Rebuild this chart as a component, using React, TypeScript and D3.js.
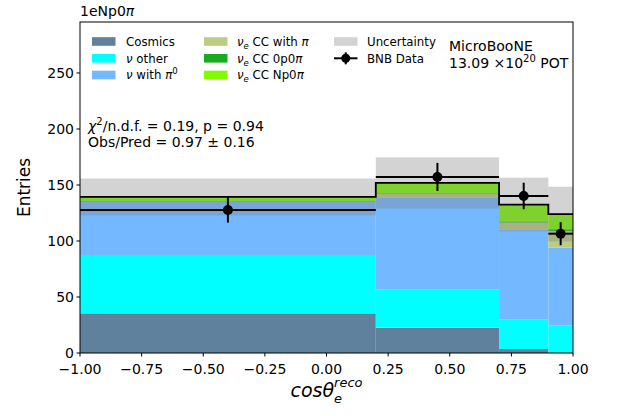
import React from "react";
import * as d3 from "d3";

const binEdges = [-1.0, 0.2, 0.7, 0.9, 1.0];
const cosmics = [35.4, 22.6, 3.6, 0.3];
const nuOther = [52.1, 33.9, 26.2, 24.1];
const nuPi0 = [47.3, 82.5, 80.6, 69.6];
const nueCCPi = [0.4, 3.0, 6.1, 15.0];
const nueCC0p0pi = [0.5, 0.6, 1.0, 1.5];
const nueCCNp0pi = [3.6, 9.2, 15.0, 13.5];
const uncertainty = [16.5, 22.9, 24.0, 24.4];
const dataValues = [127.7, 157.2, 140.2, 106.5];
const xTicks = [-1.0, -0.75, -0.5, -0.25, 0.0, 0.25, 0.5, 0.75, 1.0];
const yTicks = [0, 50, 100, 150, 200, 250];

const seriesKeys = ["cosmics", "nuOther", "nuPi0", "nueCCPi", "nueCC0p0pi", "nueCCNp0pi"];
const seriesValues: Record<string, number[]> = {
  cosmics, nuOther, nuPi0, nueCCPi, nueCC0p0pi, nueCCNp0pi,
};
const colors: Record<string, string> = {
  cosmics: "#5f819d",
  nuOther: "#00ffff",
  nuPi0: "#74b9ff",
  nueCCPi: "#bccd83",
  nueCC0p0pi: "#17ab1f",
  nueCCNp0pi: "#7ffc00",
};

const W = 621, H = 416;
const L = 80, R = 573, T = 22, B = 353;
const FONT = "DejaVu Sans";

export default function App() {
  const x = d3.scaleLinear().domain([-1, 1]).range([L, R]);
  const y = d3.scaleLinear().domain([0, 295.5]).range([B, T]);

  const rows = binEdges.slice(0, -1).map((e, i) => {
    const r: any = { i, x0: e, x1: binEdges[i + 1] };
    seriesKeys.forEach((k) => (r[k] = seriesValues[k][i]));
    return r;
  });
  const stacked = d3.stack().keys(seriesKeys)(rows as any);
  const totals = rows.map((_, i) => stacked[stacked.length - 1][i][1]);

  const stepPts: [number, number][] = [];
  rows.forEach((r, i) => {
    stepPts.push([x(r.x0), y(totals[i])]);
    stepPts.push([x(r.x1), y(totals[i])]);
  });
  const stepPath = d3.line()(stepPts) as string;

  const fmt = d3.format(".2f");
  const tickLabel = (v: number) => fmt(v).replace("-", "\u2212");

  const legendRowY = [41.5, 58.3, 75];
  const legendItems: { col: number; row: number; key?: string; label: React.ReactNode; kind: string }[] = [
    { col: 0, row: 0, key: "cosmics", label: "Cosmics", kind: "patch" },
    { col: 0, row: 1, key: "nuOther", label: <><tspan fontStyle="italic">ν</tspan> other</>, kind: "patch" },
    { col: 0, row: 2, key: "nuPi0", label: <><tspan fontStyle="italic">ν</tspan> with <tspan fontStyle="italic">π</tspan><tspan dy={-5} fontSize={8.5}>0</tspan></>, kind: "patch" },
    { col: 1, row: 0, key: "nueCCPi", label: <><tspan fontStyle="italic">ν</tspan><tspan dy={3} fontSize={8.5} fontStyle="italic">e</tspan><tspan dy={-3}> CC with </tspan><tspan fontStyle="italic">π</tspan></>, kind: "patch" },
    { col: 1, row: 1, key: "nueCC0p0pi", label: <><tspan fontStyle="italic">ν</tspan><tspan dy={3} fontSize={8.5} fontStyle="italic">e</tspan><tspan dy={-3}> CC 0p0</tspan><tspan fontStyle="italic">π</tspan></>, kind: "patch" },
    { col: 1, row: 2, key: "nueCCNp0pi", label: <><tspan fontStyle="italic">ν</tspan><tspan dy={3} fontSize={8.5} fontStyle="italic">e</tspan><tspan dy={-3}> CC Np0</tspan><tspan fontStyle="italic">π</tspan></>, kind: "patch" },
    { col: 2, row: 0, label: "Uncertainty", kind: "band" },
    { col: 2, row: 1, label: "BNB Data", kind: "data" },
  ];
  const colPatchX = [92, 204, 334];
  const colTextX = [126, 237, 367];

  return (
    <svg width={W} height={H} style={{ position: "absolute", left: 0, top: 0 }} fontFamily={FONT}>
      <rect width={W} height={H} fill="white" />
      {stacked.map((s) => (
        <g key={s.key}>
          {s.map((d, i) => (
            <rect key={i}
              x={x(rows[i].x0)} width={x(rows[i].x1) - x(rows[i].x0)}
              y={y(d[1])} height={Math.max(0, y(d[0]) - y(d[1]))}
              fill={colors[s.key]} />
          ))}
        </g>
      ))}
      {rows.map((r, i) => (
        <rect key={"u" + i}
          x={x(r.x0)} width={x(r.x1) - x(r.x0)}
          y={y(totals[i] + uncertainty[i])}
          height={y(totals[i] - uncertainty[i]) - y(totals[i] + uncertainty[i])}
          fill="#808080" fillOpacity={0.35} />
      ))}
      <path d={stepPath} fill="none" stroke="black" strokeWidth={1.8} />
      {rows.map((r, i) => {
        const cx = x((r.x0 + r.x1) / 2);
        const err = Math.sqrt(dataValues[i]);
        return (
          <g key={"d" + i}>
            <line x1={x(r.x0)} x2={x(r.x1)} y1={y(dataValues[i])} y2={y(dataValues[i])} stroke="black" strokeWidth={2} />
            <line x1={cx} x2={cx} y1={y(dataValues[i] + err)} y2={y(dataValues[i] - err)} stroke="black" strokeWidth={2} />
            <circle cx={cx} cy={y(dataValues[i])} r={5} fill="black" />
          </g>
        );
      })}
      <rect x={L} y={T} width={R - L} height={B - T} fill="none" stroke="black" strokeWidth={1} />
      {xTicks.map((t) => (
        <g key={"xt" + t}>
          <line x1={x(t)} x2={x(t)} y1={B} y2={B + 3.5} stroke="black" strokeWidth={1} />
          <text x={x(t)} y={B + 21} fontSize={14} textAnchor="middle">{tickLabel(t)}</text>
        </g>
      ))}
      {yTicks.map((t) => (
        <g key={"yt" + t}>
          <line x1={L - 3.5} x2={L} y1={y(t)} y2={y(t)} stroke="black" strokeWidth={1} />
          <text x={L - 6} y={y(t) + 5} fontSize={14} textAnchor="end">{t}</text>
        </g>
      ))}
      <text transform={`translate(30,${(T + B) / 2}) rotate(-90)`} fontSize={17} textAnchor="middle">Entries</text>
      <text x={(L + R) / 2} y={397} fontSize={19} textAnchor="middle" fontStyle="italic">
        cosθ<tspan dy={6} fontSize={13}>e</tspan><tspan dy={-16} dx={-8} fontSize={13}>reco</tspan>
      </text>
      <text x={L} y={16} fontSize={14}>1eNp0<tspan fontStyle="italic">π</tspan></text>
      {legendItems.map((it, idx) => {
        const cy = legendRowY[it.row];
        const px = colPatchX[it.col];
        return (
          <g key={"lg" + idx}>
            {it.kind === "patch" && <rect x={px} y={cy - 4.3} width={23.5} height={8.6} fill={colors[it.key!]} />}
            {it.kind === "band" && <rect x={px} y={cy - 4.3} width={23.5} height={8.6} fill="#808080" fillOpacity={0.35} />}
            {it.kind === "data" && (
              <g>
                <line x1={px} x2={px + 23.5} y1={cy} y2={cy} stroke="black" strokeWidth={2} />
                <line x1={px + 11.75} x2={px + 11.75} y1={cy - 6} y2={cy + 6} stroke="black" strokeWidth={2} />
                <circle cx={px + 11.75} cy={cy} r={4.5} fill="black" />
              </g>
            )}
            <text x={colTextX[it.col]} y={cy + 4.3} fontSize={11.8}>{it.label}</text>
          </g>
        );
      })}
      <text x={449} y={51} fontSize={14}>MicroBooNE</text>
      <text x={449} y={68} fontSize={14}>13.09 ×10<tspan dy={-6} fontSize={10}>20</tspan><tspan dy={6}> POT</tspan></text>
      <text x={88} y={131} fontSize={14}><tspan fontStyle="italic">χ</tspan><tspan dy={-6} fontSize={10}>2</tspan><tspan dy={6}>/n.d.f. = 0.19, p = 0.94</tspan></text>
      <text x={88} y={147} fontSize={14}>Obs/Pred = 0.97 ± 0.16</text>
    </svg>
  );
}
